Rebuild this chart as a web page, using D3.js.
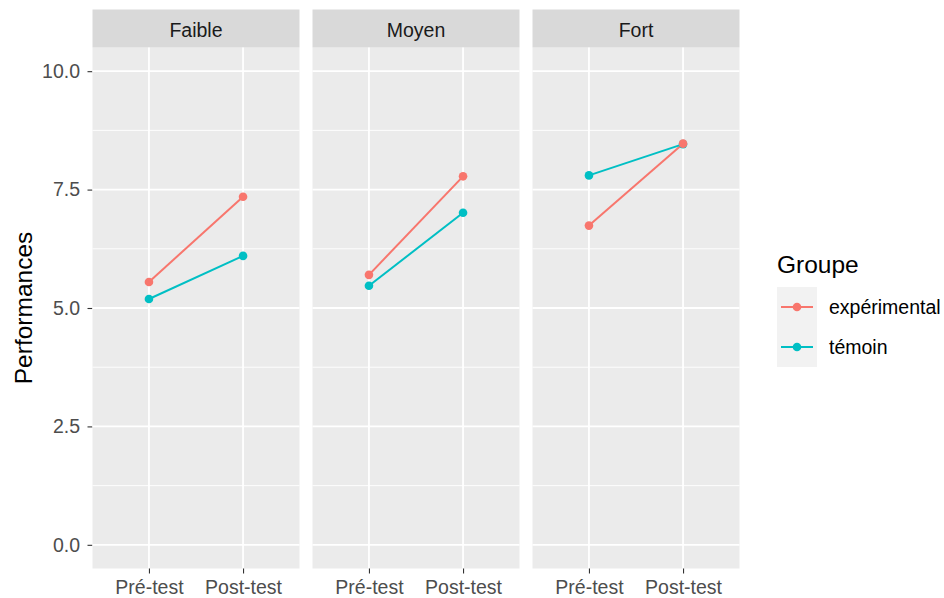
<!DOCTYPE html>
<html><head><meta charset="utf-8">
<script src="https://cdn.jsdelivr.net/npm/d3@7"></script>
<style>body{margin:0;background:#fff;} text{font-family:"Liberation Sans",Arial,sans-serif;}</style>
</head><body><svg id="c" width="944" height="598"></svg>
<script>
const panels = ["Faible","Moyen","Fort"];
const phases = ["Pré-test","Post-test"];
const groups = ["expérimental","témoin"];
const colors = ["#F8766D","#00BFC4"];
const expValues = [[5.55,7.35],[5.70,7.78],[6.74,8.47]];
const temValues = [[5.19,6.10],[5.47,7.01],[7.80,8.46]];
const yTicks = [0,2.5,5,7.5,10];
const yMinor = [1.25,3.75,6.25,8.75];

const svg = d3.select("#c");
const panelX0 = [92.5,312.5,532.5], panelW = 207;
const plotTop = 47.5, plotBottom = 568.5, stripTop = 9.5;
const y = d3.scaleLinear().domain([-0.5,10.5]).range([plotBottom, plotTop]);

// y axis
const ya = svg.append("g").attr("transform",`translate(${panelX0[0]},0)`)
  .call(d3.axisLeft(y).tickValues(yTicks).tickFormat(d3.format(".1f")).tickSize(5).tickPadding(7.5));
ya.select(".domain").remove();
ya.selectAll("line").attr("stroke","#333").attr("stroke-width",1.1);
ya.selectAll("text").attr("fill","#4D4D4D").style("font-size","19.5px");

svg.append("text").attr("transform",`translate(32,${(plotTop+plotBottom)/2}) rotate(-90)`)
  .attr("text-anchor","middle").attr("font-size","24.5px").attr("fill","#000").text("Performances");

panels.forEach((p,i)=>{
  const g = svg.append("g").attr("transform",`translate(${panelX0[i]},0)`);
  const x = d3.scalePoint().domain(phases).range([0,panelW]).padding(0.6);
  g.append("rect").attr("x",0).attr("y",plotTop).attr("width",panelW).attr("height",plotBottom-plotTop).attr("fill","#EBEBEB");
  g.append("rect").attr("x",0).attr("y",stripTop).attr("width",panelW).attr("height",plotTop-stripTop).attr("fill","#D9D9D9");
  g.append("text").attr("x",panelW/2).attr("y",(stripTop+plotTop)/2+1).attr("dy","0.36em").attr("text-anchor","middle")
    .attr("font-size","19.5px").attr("fill","#1A1A1A").text(p);
  yMinor.forEach(v=>g.append("line").attr("x1",0).attr("x2",panelW).attr("y1",y(v)).attr("y2",y(v)).attr("stroke","#fff").attr("stroke-width",0.9));
  yTicks.forEach(v=>g.append("line").attr("x1",0).attr("x2",panelW).attr("y1",y(v)).attr("y2",y(v)).attr("stroke","#fff").attr("stroke-width",1.8));
  phases.forEach(ph=>g.append("line").attr("x1",x(ph)).attr("x2",x(ph)).attr("y1",plotTop).attr("y2",plotBottom).attr("stroke","#fff").attr("stroke-width",1.8));
  const xa = g.append("g").attr("transform",`translate(0,${plotBottom})`).call(d3.axisBottom(x).tickSize(5).tickPadding(7));
  xa.select(".domain").remove();
  xa.selectAll("line").attr("stroke","#333").attr("stroke-width",1.1);
  xa.selectAll("text").attr("fill","#4D4D4D").style("font-size","19.5px");
  const series = [expValues[i], temValues[i]];
  const ptsAll = series.map(vals => phases.map((ph,j)=>[x(ph), y(vals[j])]));
  ptsAll.forEach((pts,k)=>g.append("path").attr("d",d3.line()(pts)).attr("fill","none").attr("stroke",colors[k]).attr("stroke-width",2));
  [1,0].forEach(k=>ptsAll[k].forEach(pt=>g.append("circle").attr("cx",pt[0]).attr("cy",pt[1]).attr("r",4.3).attr("fill",colors[k])));
});

// legend
const lg = svg.append("g");
lg.append("text").attr("x",777).attr("y",272.5).attr("font-size","24.5px").attr("fill","#000").text("Groupe");
groups.forEach((gname,k)=>{
  const ky = 287 + k*40;
  lg.append("rect").attr("x",777).attr("y",ky).attr("width",40).attr("height",40).attr("fill","#F2F2F2");
  lg.append("line").attr("x1",781).attr("x2",813).attr("y1",ky+20).attr("y2",ky+20).attr("stroke",colors[k]).attr("stroke-width",2);
  lg.append("circle").attr("cx",797).attr("cy",ky+20).attr("r",4.3).attr("fill",colors[k]);
  lg.append("text").attr("x",829).attr("y",ky+20).attr("dy","0.36em").attr("font-size","19.5px").attr("fill","#000").text(gname);
});
</script></body></html>
